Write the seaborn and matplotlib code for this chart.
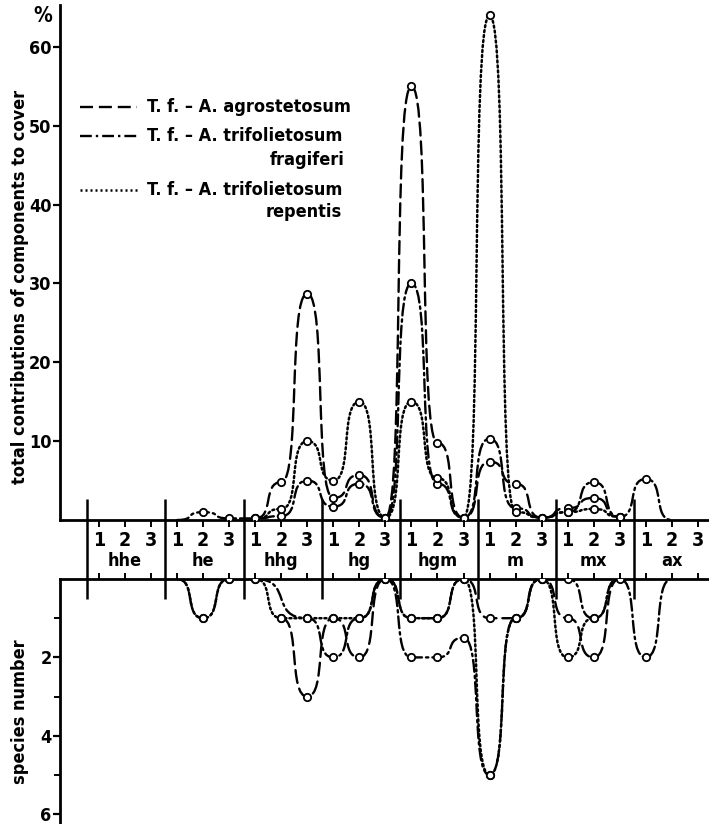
import numpy as np
import pandas as pd
import matplotlib
matplotlib.use("Agg")
import matplotlib.pyplot as plt
from matplotlib.path import Path
from matplotlib.patches import PathPatch
import seaborn as sns

# ---------------- data ----------------
groups = ["hhe", "he", "hhg", "hg", "hgm", "m", "mx", "ax"]
subs = ["1", "2", "3"]
nan = np.nan

series_names = ["T. f. – A. agrostetosum",
                "T. f. – A. trifolietosum fragiferi",
                "T. f. – A. trifolietosum repentis"]

# total contributions of components to cover (%)
cover_agrostetosum = [nan, nan, nan,  nan, nan, nan,  0.2, 4.8, 28.7,  2.8, 5.7, 0.3,
                      55.0, 9.8, 0.3,  7.4, 4.6, 0.3,  1.5, 2.8, 0.4,  nan, nan, nan]
cover_fragiferi = [nan, nan, nan,  0.0, 1.0, 0.2,  0.2, 0.5, 5.0,  1.7, 4.6, 0.3,
                   30.0, 4.6, 0.3,  10.3, 1.5, 0.3,  1.0, 4.8, 0.4,  5.2, 0.0, nan]
cover_repentis = [nan, nan, nan,  nan, nan, nan,  0.2, 1.4, 10.0,  5.0, 15.0, 0.3,
                  15.0, 5.3, 0.3,  64.0, 1.0, 0.3,  1.0, 1.4, 0.4,  nan, nan, nan]

# species number
species_agrostetosum = [nan, nan, nan,  nan, nan, nan,  nan, 1, 3,  1, 2, 0,
                        1, 1, 0,  1, 1, 0,  1, 2, 0,  nan, nan, nan]
species_fragiferi = [nan, nan, nan,  0, 1, 0,  0, nan, 1,  2, 1, 0,
                     2, 2, 1.5,  5, 1, 0,  0, 1, 0,  2, 0, nan]
species_repentis = [nan, nan, nan,  0, 1, 0,  0, 1, 1,  1, 1, 0,
                    1, 1, 0,  5, 1, 0,  2, 1, 0,  nan, nan, nan]

cover_ticks = [10, 20, 30, 40, 50, 60]
species_ticks = [2, 4, 6]

# ---------------- style ----------------
sns.set_style("ticks")
plt.rcParams["font.family"] = ["DejaVu Sans"]
plt.rcParams["font.weight"] = "bold"
plt.rcParams["font.stretch"] = "condensed"
for k in ["text.color", "axes.labelcolor", "xtick.color", "ytick.color", "axes.edgecolor"]:
    plt.rcParams[k] = "black"
FS = 13
INK = "black"

styles = [dict(linestyle=(0, (5.5, 2.5)), lw=1.7),
          dict(linestyle=(0, (5.0, 1.7, 1.0, 1.7)), lw=1.7),
          dict(linestyle=(0, (0.8, 1.2)), lw=1.8)]

W, H = 709, 824
fig = plt.figure(figsize=(W / 100, H / 100), dpi=100)

def px_axes(x0, y0, x1, y1):
    return fig.add_axes([x0 / W, 1 - y1 / H, (x1 - x0) / W, (y1 - y0) / H])

ax_top = px_axes(60, 5, W, 520)
ax_mid = px_axes(60, 520, W, 579)
ax_bot = px_axes(60, 579, W, H)

npts = len(groups) * 3
xs = np.arange(npts)
xlim = (-1.5, 23.43)
separators = [3 * g - 0.45 for g in range(len(groups))]

HANDLE = 0.74  # bezier handle length (fraction of spacing): flat tops, steep flanks

def bezier_path(x, y):
    x = np.asarray(x, float)
    y = np.asarray(y, float)
    m = ~np.isnan(y)
    x, y = x[m], y[m]
    verts = [(x[0], y[0])]
    codes = [Path.MOVETO]
    for i in range(len(x) - 1):
        d = HANDLE * (x[i + 1] - x[i])
        verts += [(x[i] + d, y[i]), (x[i + 1] - d, y[i + 1]), (x[i + 1], y[i + 1])]
        codes += [Path.CURVE4] * 3
    return Path(verts, codes)

def draw_panel(ax, data):
    rows = []
    for name, vals, st in zip(series_names, data, styles):
        path = bezier_path(xs, vals)
        ax.add_patch(PathPatch(path, fill=False, edgecolor=INK, capstyle="round",
                               zorder=2, **st))
        v = np.asarray(vals, float)
        idx = np.where(~np.isnan(v))[0]
        for j in idx:
            if (j == idx[0] or j == idx[-1]) and v[j] == 0:
                continue
            rows.append(dict(x=xs[j], y=v[j], series=name))
    df = pd.DataFrame(rows)
    sns.scatterplot(data=df, x="x", y="y", ax=ax, marker="o", s=28,
                    color="white", edgecolor=INK, linewidth=1.3, zorder=3,
                    legend=False)
    ax.set_xlim(*xlim)
    ax.set_xlabel("")
    ax.set_ylabel("")
    ax.set_xticks([])

# top panel
draw_panel(ax_top, [cover_agrostetosum, cover_fragiferi, cover_repentis])
ax_top.set_ylim(0, 65.3)
ax_top.set_yticks(cover_ticks)
ax_top.set_yticklabels([str(t) for t in cover_ticks])
for s in ["top", "right"]:
    ax_top.spines[s].set_visible(False)
for s in ["left", "bottom"]:
    ax_top.spines[s].set_linewidth(2.0)
ax_top.tick_params(axis="y", direction="out", length=5, width=1.6, labelsize=FS, pad=1)
ax_top.vlines(separators, 0, 2.65, color=INK, lw=1.8)

# bottom panel
draw_panel(ax_bot, [species_agrostetosum, species_fragiferi, species_repentis])
ax_bot.set_ylim(6.25, 0)
ax_bot.set_yticks(species_ticks)
ax_bot.set_yticks([1, 3, 5], minor=True)
ax_bot.set_yticklabels([str(t) for t in species_ticks])
for s in ["bottom", "right"]:
    ax_bot.spines[s].set_visible(False)
for s in ["left", "top"]:
    ax_bot.spines[s].set_linewidth(2.0)
ax_bot.tick_params(axis="y", which="major", direction="out", length=5, width=1.6,
                   labelsize=FS, pad=1)
ax_bot.tick_params(axis="y", which="minor", direction="out", length=4, width=1.4)
ax_bot.vlines(separators, 0, 0.52, color=INK, lw=1.8)

# middle band with category labels
ax_mid.set_xlim(*xlim)
ax_mid.set_ylim(0, 1)
ax_mid.axis("off")
ax_mid.vlines(separators, 0, 1, color=INK, lw=1.8)
ax_mid.vlines(xs, 0.88, 1, color=INK, lw=1.4)
ax_mid.vlines(xs, 0, 0.1, color=INK, lw=1.4)
for g, name in enumerate(groups):
    for p, s in enumerate(subs):
        ax_mid.text(3 * g + p, 0.66, s, ha="center", va="center", fontsize=FS + 1)
    ax_mid.text(3 * g + 1, 0.30, name, ha="center", va="center", fontsize=FS)

# legend (drawn manually to mimic the original)
leg_y = [52.4, 48.7, 41.9]
for st, y in zip(styles, leg_y):
    ax_top.plot([-0.73, 1.46], [y, y], color=INK, lw=st["lw"], linestyle=st["linestyle"])
ax_top.text(1.84, leg_y[0], "T. f. – A. agrostetosum", va="center", fontsize=FS)
ax_top.text(1.84, leg_y[1], "T. f. – A. trifolietosum", va="center", fontsize=FS)
ax_top.text(9.45, 45.7, "fragiferi", va="center", ha="right", fontsize=FS)
ax_top.text(1.84, leg_y[2], "T. f. – A. trifolietosum", va="center", fontsize=FS)
ax_top.text(9.33, 39.1, "repentis", va="center", ha="right", fontsize=FS)

# axis titles
fig.text(43 / W, 1 - 16 / H, "%", ha="center", va="center", fontsize=FS + 2)
fig.text(20 / W, 1 - 287 / H, "total contributions of components to cover",
         rotation=90, ha="center", va="center", fontsize=FS)
fig.text(20 / W, 1 - 712 / H, "species number",
         rotation=90, ha="center", va="center", fontsize=FS)

fig.savefig("out.png", dpi=100)
